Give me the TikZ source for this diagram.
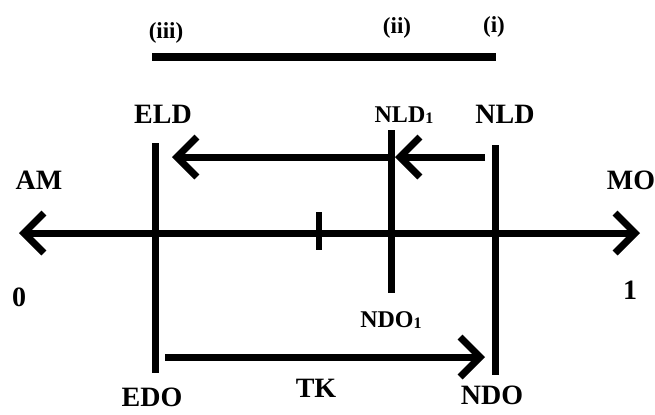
\documentclass[tikz,border=0pt]{standalone}
\usepackage{fontspec}
\setmainfont{Liberation Serif}
\usetikzlibrary{arrows.meta}
\tikzset{
  lbl/.style={font=\bfseries\fontsize{14}{16}\selectfont},
  midlbl/.style={font=\bfseries\fontsize{12}{14}\selectfont},
  romlbl/.style={font=\bfseries\fontsize{11.5}{13}\selectfont},
  heavy/.style={line width=3.5pt},
  barb/.style={-{Straight Barb[length=10pt,width=20pt]}},
  barbs/.style={{Straight Barb[length=10pt,width=20pt]}-{Straight Barb[length=10pt,width=20pt]}},
}
\newcommand{\lowone}{\raisebox{-0.15ex}{\fontsize{8}{9}\selectfont 1}}

\begin{document}
\begin{tikzpicture}[x=0.5pt,y=-0.5pt]
    \useasboundingbox (0,0) rectangle (655,414);
    %ranking bar
    \node[romlbl] (iii) at (166,33) {(iii)};
    \node[romlbl] (ii) at (397,28) {(ii)};
    \node[romlbl] (i) at (494,27) {(i)};
    \coordinate (barL) at (152,57);
    \coordinate (barR) at (496,57);
    \draw[line width=4pt] (barL) -- (barR);

    %axis
    \node[lbl] (AM) at (39,180) {AM};
    \node[lbl] (MO) at (631,180) {MO};
    \node[lbl] (zero) at (19,297) {0};
    \node[lbl] (one) at (630,290) {1};
    \coordinate (axL) at (19,233);
    \coordinate (axR) at (640,233);
    \draw[heavy,barbs] (axL) -- (axR);
    \coordinate (tickT) at (319,212);
    \coordinate (tickB) at (319,250);
    \draw[line width=3pt] (tickT) -- (tickB);

    %vertical lines
    \node[lbl] (ELD) at (163,114) {ELD};
    \node[midlbl] (NLDa) at (404,115) {NLD\lowone};
    \node[lbl] (NLD) at (505,114) {NLD};
    \node[midlbl] (NDOa) at (391,320) {NDO\lowone};
    \node[lbl] (EDO) at (152,397) {EDO};
    \node[lbl] (NDO) at (492,395) {NDO};
    \node[lbl] (TK) at (316,388) {TK};
    \coordinate (eldT) at (155,143);
    \coordinate (edoB) at (155,373);
    \coordinate (nldaT) at (391,130);
    \coordinate (ndoaB) at (391,293);
    \coordinate (nldT) at (495,145);
    \coordinate (ndoB) at (495,375);
    \draw[heavy] (eldT) -- (edoB);
    \draw[heavy] (nldaT) -- (ndoaB);
    \draw[heavy] (nldT) -- (ndoB);

    %shifts
    \coordinate (upR) at (485,157);
    \coordinate (upM) at (395,157);
    \coordinate (upL) at (172,157);
    \draw[heavy,barb] (upR) -- (upM);
    \draw[heavy,barb] (upM) -- (upL);
    \coordinate (loL) at (165,357);
    \coordinate (loR) at (485,357);
    \draw[heavy,barb] (loL) -- (loR);
\end{tikzpicture}
\end{document}
